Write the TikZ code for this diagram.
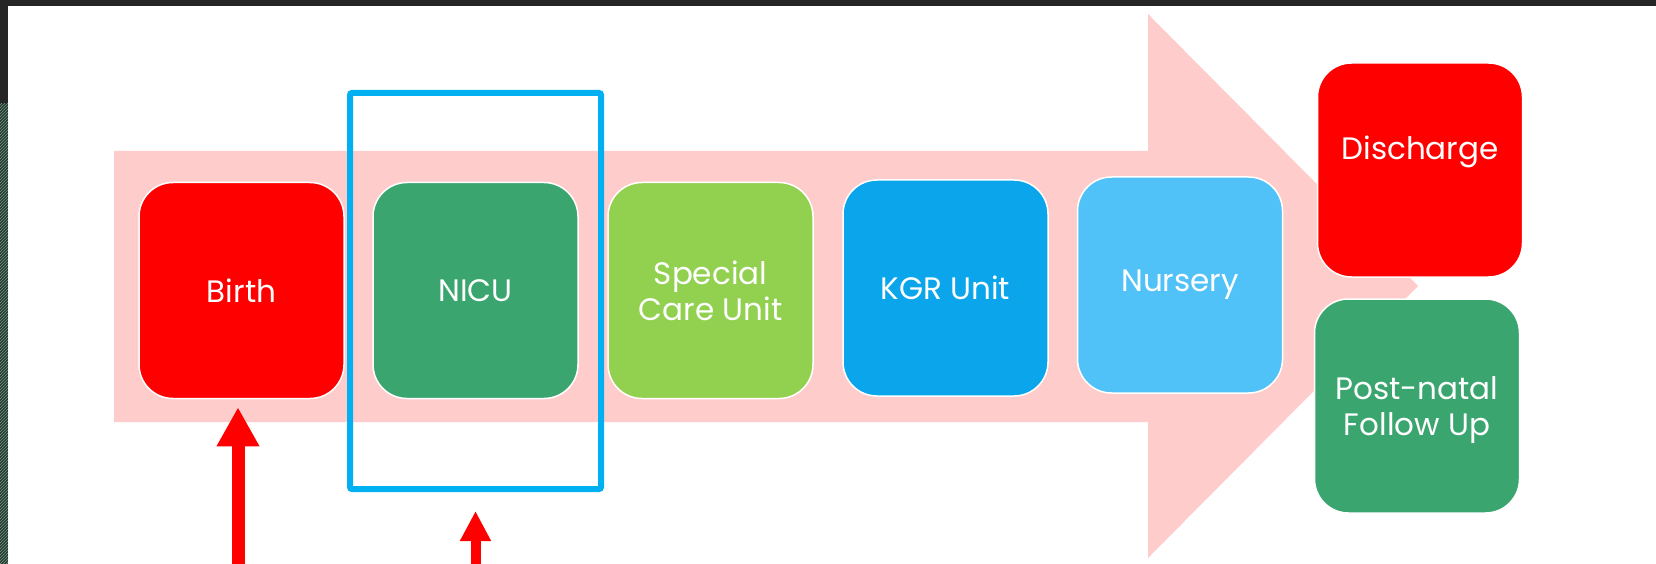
\documentclass[tikz,border=0pt]{standalone}
\usepackage{fontspec}
\setmainfont{Poppins}
\usetikzlibrary{arrows.meta,patterns}
\definecolor{pinkarrow}{HTML}{FFCCCC}
\definecolor{cRed}{HTML}{FF0000}
\definecolor{cGreen}{HTML}{3AA56F}
\definecolor{cLime}{HTML}{92D050}
\definecolor{cBlue}{HTML}{0BA5EC}
\definecolor{cSky}{HTML}{51C2F8}
\definecolor{frameblue}{HTML}{00B0F0}
\definecolor{darkband}{HTML}{262626}
\definecolor{hatchbase}{HTML}{2B3A32}
\definecolor{hatchline}{HTML}{6A9A80}
\tikzset{
  unitfont/.style={font=\fontsize{31pt}{36pt}\selectfont},
  unitbox/.style={rectangle, rounded corners=34pt, draw=white, line width=1.5pt,
    minimum width=205pt, minimum height=216pt, text=white, align=center,
    unitfont, inner sep=0pt},
  pointer/.style={draw=cRed, line width=#1},
}
\begin{document}
\begin{tikzpicture}[x=1pt,y=-1pt]
\useasboundingbox (0,0) rectangle (1656,564);
\fill[white] (0,0) rectangle (1656,564);
% window edges
\fill[darkband] (0,0) rectangle (1656,6);
\fill[darkband] (0,0) rectangle (8,104);
\fill[hatchbase] (0,104) rectangle (8,564);
\fill[pattern=north east lines, pattern color=hatchline] (0,104) rectangle (8,564);
% big pink arrow
\fill[pinkarrow] (114,151) -- (1148,151) -- (1148,14) -- (1418,286) -- (1148,558)
  -- (1148,422) -- (114,422) -- cycle;
% units
\node[unitbox, fill=cRed]   (birth)   at (241.5,290.5) {Birth};
\node[unitbox, fill=cGreen] (nicu)    at (475.5,290.5) {NICU};
\node[unitbox, fill=cLime]  (special) at (710.5,290.5) {Special\\Care Unit};
\node[unitbox, fill=cBlue]  (kgr)     at (945.5,288)   {KGR Unit};
\node[unitbox, fill=cSky]   (nursery) at (1180,285)    {Nursery};
\node[unitbox, fill=cRed, minimum height=214pt,
  label={[text=white, unitfont, yshift=18pt]center:Discharge}]
  (discharge) at (1420,170) {};
\node[unitbox, fill=cGreen, minimum height=214pt] (postnatal) at (1417,406) {\\[-4pt]Post-natal\\Follow Up};
% highlight frame
\node[draw=frameblue, line width=6pt, rounded corners=2pt, minimum width=251pt,
  minimum height=396pt, inner sep=0pt] (frame) at (475.5,291) {};
% red pointers
\coordinate (p1) at (238,570);
\coordinate (p2) at (475.5,570);
\draw[pointer=13pt, -{Triangle[width=40pt,length=39pt]}, shorten >=8pt] (p1) -- (p1 |- birth.south);
\draw[pointer=10pt, -{Triangle[width=29pt,length=30pt]}, shorten >=19pt] (p2) -- (frame.south);
\end{tikzpicture}
\end{document}
